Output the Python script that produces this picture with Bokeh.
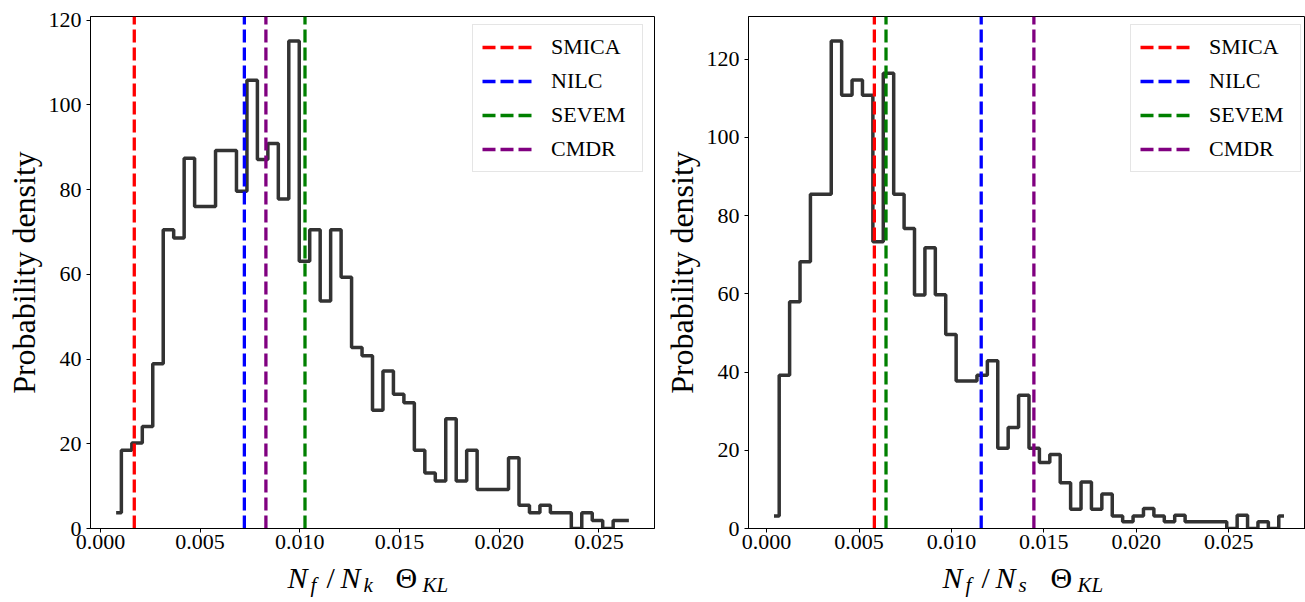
import numpy as np
from bokeh.plotting import figure
from bokeh.layouts import row, column
from bokeh.models import (Range1d, FixedTicker, PrintfTickFormatter, Legend,
                          LegendItem)
from bokeh.core.properties import value
from bokeh.embed import file_html
from bokeh.resources import INLINE

# ---------------- data ----------------
methods = ["SMICA", "NILC", "SEVEM", "CMDR"]
method_colors = ["red", "blue", "green", "purple"]

# left panel: N_f/N_k Theta_KL  (50 bins, density)
left_density = [3.7, 18.5, 20.2, 24.1, 38.9, 70.5, 68.6, 87.4, 76.0, 76.0,
                89.2, 89.2, 79.6, 105.8, 87.1, 90.9, 77.8, 115.1, 63.1, 70.5,
                53.7, 70.5, 59.3, 42.7, 40.8, 27.9, 37.2, 31.7, 29.7, 18.5,
                13.1, 11.2, 25.9, 11.2, 18.5, 9.2, 9.2, 9.2, 16.7, 5.5,
                3.7, 5.5, 3.7, 3.7, 0.0, 3.7, 1.9, 0.0, 1.9, 1.9]
left_first_center = 0.00079
left_last_center = 0.02650
left_vlines = [0.00170, 0.00722, 0.01026, 0.00830]   # SMICA, NILC, SEVEM, CMDR

# right panel: N_f/N_s Theta_KL  (50 bins, density)
right_density = [3.2, 39.2, 58.0, 68.2, 85.5, 85.5, 124.7, 110.8, 114.7, 110.8,
                 73.3, 116.4, 85.5, 76.7, 59.7, 71.8, 59.8, 49.6, 37.7, 37.7,
                 39.2, 42.9, 20.5, 25.8, 34.1, 20.5, 16.9, 18.9, 11.7, 4.9,
                 11.9, 4.9, 8.8, 3.2, 1.7, 3.2, 5.1, 3.2, 1.7, 3.4,
                 1.7, 1.7, 1.7, 1.7, 0.0, 3.4, 0.0, 1.7, 0.0, 3.2]
right_first_center = 0.00040
right_last_center = 0.02799
right_vlines = [0.00583, 0.01161, 0.00646, 0.01446]  # SMICA, NILC, SEVEM, CMDR

x_ticks = [0.000, 0.005, 0.010, 0.015, 0.020, 0.025]
y_ticks = [0, 20, 40, 60, 80, 100, 120]

FONT = "Liberation Serif"
TOP_H = 560
LABEL_H = 602 - TOP_H


def make_panel(density, c_first, c_last, vlines, width, bl, br, frame_ratio):
    n = len(density)
    centers = np.linspace(c_first, c_last, n)
    span = c_last - c_first
    x0 = c_first - 0.05 * span
    x1 = c_last + 0.05 * span
    x1 = x0 + (x1 - x0) * frame_ratio
    ytop = max(density) * 1.05

    p = figure(width=width, height=TOP_H, output_backend="svg", toolbar_location=None,
               title=None,
               x_range=Range1d(x0, x1), y_range=Range1d(0, ytop),
               min_border_left=bl, min_border_right=br,
               min_border_top=16, min_border_bottom=32)
    p.background_fill_color = "white"
    p.border_fill_color = "white"
    p.outline_line_color = "black"
    p.outline_line_width = 1
    p.xgrid.grid_line_color = None
    p.ygrid.grid_line_color = None

    p.step(x=centers, y=density, mode="center", line_color="#333333",
           line_width=3.5)

    items = []
    for name, col, v in zip(methods, method_colors, vlines):
        r = p.line(x=[v, v], y=[0, ytop], line_color=col, line_width=3.3,
                   line_dash="13 5")
        items.append(LegendItem(label=name, renderers=[r]))

    leg = Legend(items=items, location=(382, 356), padding=9, spacing=8,
                 glyph_width=50, glyph_height=26, label_height=26,
                 label_width=82, label_standoff=19, margin=0,
                 label_text_font=FONT, label_text_font_size="22px",
                 label_text_color="black",
                 border_line_color="#cccccc", border_line_width=1,
                 background_fill_color="white", background_fill_alpha=0.8)
    p.add_layout(leg)

    for ax in (p.xaxis[0], p.yaxis[0]):
        ax.axis_line_color = "black"
        ax.major_tick_in = 0
        ax.major_tick_out = 4
        ax.major_tick_line_color = "black"
        ax.minor_tick_line_color = None
        ax.major_label_text_font = FONT
        ax.major_label_text_font_size = "22px"
        ax.major_label_text_color = "black"
        ax.major_label_standoff = 5
    p.xaxis.major_label_standoff = 2
    p.xaxis.ticker = FixedTicker(ticks=x_ticks)
    p.xaxis.formatter = PrintfTickFormatter(format="%.3f")
    p.yaxis.ticker = FixedTicker(ticks=y_ticks)
    p.yaxis.axis_label = "Probability density"
    p.yaxis.axis_label_text_font = FONT
    p.yaxis.axis_label_text_font_size = "32px"
    p.yaxis.axis_label_text_font_style = "normal"
    p.yaxis.axis_label_text_color = "black"
    p.yaxis.axis_label_standoff = 4
    return p


def make_xlabel(width, frame_left, sub):
    q = figure(width=width, height=LABEL_H, output_backend="svg",
               toolbar_location=None, title=None, x_range=Range1d(0, width),
               y_range=Range1d(0, LABEL_H), x_axis_location=None,
               y_axis_location=None, min_border=0)
    q.outline_line_color = None
    q.xgrid.grid_line_color = None
    q.ygrid.grid_line_color = None
    q.background_fill_color = "white"
    q.border_fill_color = "white"
    # (text, offset from frame left, height above bottom, size, style)
    pieces = [
        ("N", 197, 25, 30, "italic"),
        ("f", 220, 17.5, 21, "italic"),
        ("/", 236, 25, 30, "normal"),
        ("N", 250, 25, 30, "italic"),
        (sub, 273, 17.5, 21, "italic"),
        ("\u0398", 305, 25, 30, "normal"),
        ("KL", 332, 17.5, 21, "italic"),
    ]
    for txt, dx, by, size, style in pieces:
        q.text(x=[frame_left + dx], y=[by], text=[txt], text_font=value(FONT),
               text_font_size=f"{size}px", text_font_style=style,
               text_baseline="alphabetic", text_align="left", text_color="black")
    return q


p1 = make_panel(left_density, left_first_center, left_last_center, left_vlines,
                660, 90, 6, 1.0)
p2 = make_panel(right_density, right_first_center, right_last_center, right_vlines,
                645, 85, 0, 560 / 564)
q1 = make_xlabel(660, 90, "k")
q2 = make_xlabel(645, 85, "s")

layout = column(row(p1, p2), row(q1, q2))
open("out.html", "w").write(file_html(layout, INLINE))
